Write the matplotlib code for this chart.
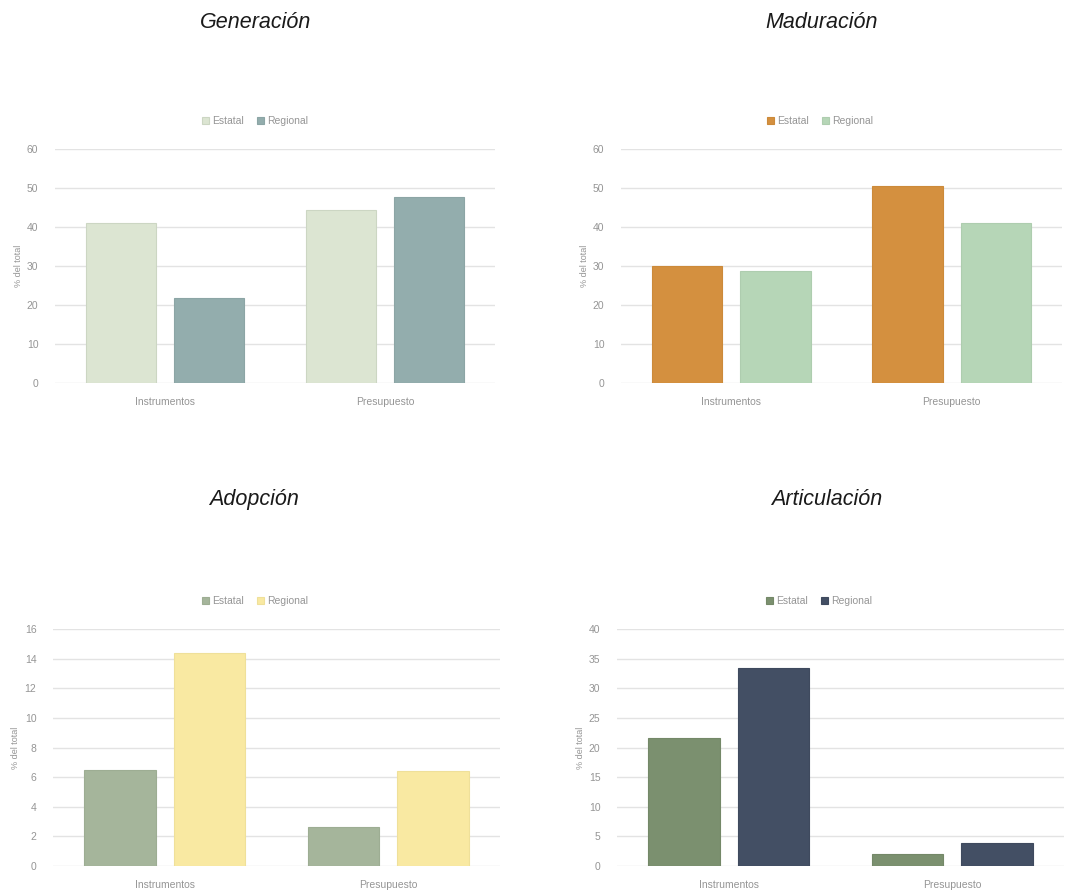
import numpy as np
import matplotlib
matplotlib.use('Agg')
import matplotlib.pyplot as plt

categories = ['Instrumentos', 'Presupuesto']
series_names = ['Estatal', 'Regional']

titles = ['Generación', 'Maduración', 'Adopción', 'Articulación']

generacion_estatal = [41.0, 44.4]
generacion_regional = [21.8, 47.7]
maduracion_estatal = [30.0, 50.5]
maduracion_regional = [28.7, 41.0]
adopcion_estatal = [6.5, 2.6]
adopcion_regional = [14.4, 6.4]
articulacion_estatal = [21.6, 2.0]
articulacion_regional = [33.4, 3.9]

y_max = [60, 60, 16, 40]
y_step = [10, 10, 2, 5]

colors = [
    ('#dce5d2', '#93adad'),
    ('#d4903f', '#b6d6b7'),
    ('#a5b59b', '#f9e9a2'),
    ('#7b906f', '#434f64'),
]
edge_colors = [
    ('#ccd6c3', '#8ca5a5'),
    ('#cc8a3a', '#aecdaf'),
    ('#9dad93', '#efe09a'),
    ('#748868', '#3f4a5e'),
]

data = [
    (generacion_estatal, generacion_regional),
    (maduracion_estatal, maduracion_regional),
    (adopcion_estatal, adopcion_regional),
    (articulacion_estatal, articulacion_regional),
]

W, H = 1068, 892
# axes boxes in pixels: left, right, top(y of max), bottom(y of 0)
boxes = [
    (55, 495, 149, 383),
    (621, 1062, 149, 383),
    (53, 500, 629, 866),
    (617, 1064, 629, 866),
]
title_pos = [(256, 22), (822, 22), (254, 500), (827, 500)]
legend_pos = [(255, 121), (820, 121), (255, 601), (819, 601)]

plt.rcParams['font.family'] = ['Liberation Sans', 'DejaVu Sans']

fig = plt.figure(figsize=(W / 100, H / 100), dpi=100)

grey = '#959595'
x = np.arange(len(categories))
width = 0.32
offset = 0.2

for i in range(4):
    l, r, t, b = boxes[i]
    ax = fig.add_axes([l / W, 1 - b / H, (r - l) / W, (b - t) / H])
    est, reg = data[i]
    c_est, c_reg = colors[i]
    e_est, e_reg = edge_colors[i]
    ax.bar(x - offset, est, width, color=c_est, edgecolor=e_est, linewidth=0.8,
           label=series_names[0], zorder=3)
    ax.bar(x + offset, reg, width, color=c_reg, edgecolor=e_reg, linewidth=0.8,
           label=series_names[1], zorder=3)
    ax.set_xlim(-0.5, 1.5)
    ax.set_ylim(0, y_max[i])
    ax.set_yticks(np.arange(0, y_max[i] + 0.1, y_step[i]))
    ax.set_xticks(x)
    ax.set_xticklabels(categories)
    ax.grid(True, axis='y', color='#e3e3e3', linewidth=1.0, zorder=0)
    ax.set_axisbelow(True)
    for s in ax.spines.values():
        s.set_visible(False)
    ax.tick_params(axis='both', length=0, labelsize=7.5, colors=grey)
    ax.tick_params(axis='x', pad=10)
    ax.tick_params(axis='y', pad=12)
    ax.set_ylabel('% del total', fontsize=6.5, color=grey, labelpad=3)
    lx, ly = legend_pos[i]
    fig.legend(*ax.get_legend_handles_labels(), loc='center',
               bbox_to_anchor=(lx / W, 1 - ly / H), ncol=2, frameon=False,
               fontsize=7.5, labelcolor=grey, handlelength=0.7, handleheight=0.7,
               handletextpad=0.3, columnspacing=1.2, borderpad=0)
    tx, ty = title_pos[i]
    fig.text(tx / W, 1 - ty / H, titles[i], ha='center', va='center',
             fontsize=15.5, style='italic', color='#1a1a1a')

fig.savefig('out.png', dpi=100, facecolor='white')
